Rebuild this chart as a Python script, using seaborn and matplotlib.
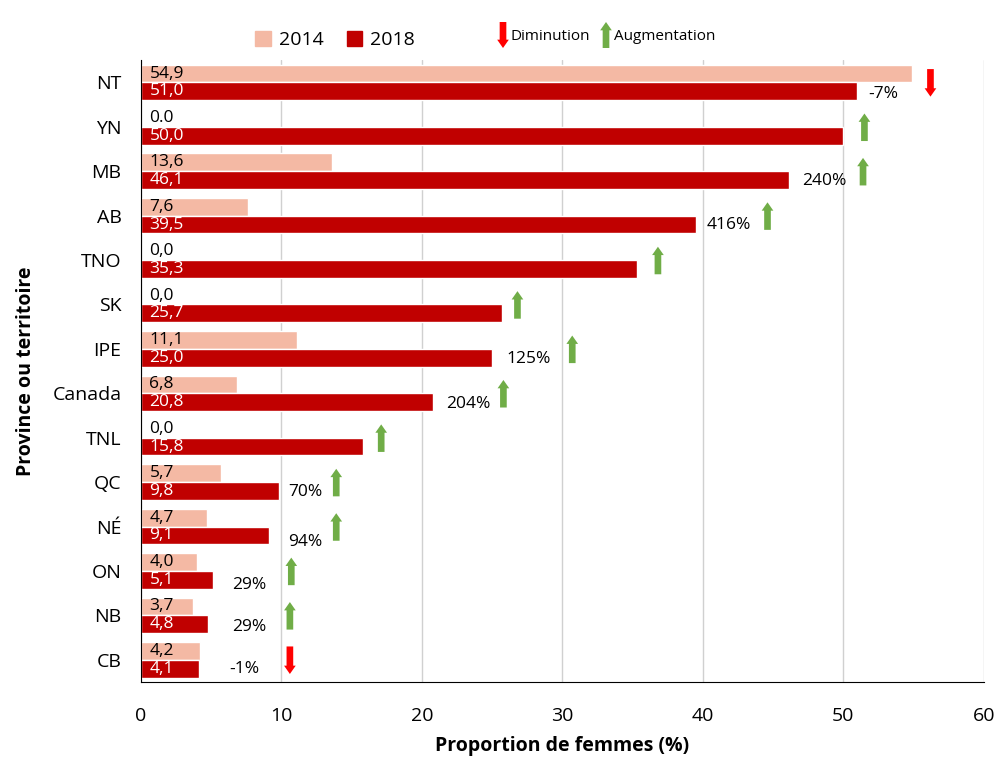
import matplotlib.pyplot as plt
import numpy as np
import pandas as pd
import seaborn as sns
from matplotlib.patches import Patch, FancyArrowPatch

# data
regions = ["NT", "YN", "MB", "AB", "TNO", "SK", "IPE", "Canada", "TNL", "QC", "NÉ", "ON", "NB", "CB"]
val_2014 = [54.9, 0.0, 13.6, 7.6, 0.0, 0.0, 11.1, 6.8, 0.0, 5.7, 4.7, 4.0, 3.7, 4.2]
val_2018 = [51.0, 50.0, 46.1, 39.5, 35.3, 25.7, 25.0, 20.8, 15.8, 9.8, 9.1, 5.1, 4.8, 4.1]
lab_2014 = ["54,9", "0.0", "13,6", "7,6", "0,0", "0,0", "11,1", "6,8", "0,0", "5,7", "4,7", "4,0", "3,7", "4,2"]
lab_2018 = ["51,0", "50,0", "46,1", "39,5", "35,3", "25,7", "25,0", "20,8", "15,8", "9,8", "9,1", "5,1", "4,8", "4,1"]
change = ["-7%", "", "240%", "416%", "", "", "125%", "204%", "", "70%", "94%", "29%", "29%", "-1%"]
trend = ["down", "up", "up", "up", "up", "up", "up", "up", "up", "up", "up", "up", "up", "down"]

# annotation layout (x in data units)
arrow_x = [56.2, 51.5, 51.4, 44.6, 36.8, 26.8, 30.7, 25.8, 17.1, 13.9, 13.9, 10.7, 10.6, 10.6]
change_x = [51.8, 0, 47.1, 40.3, 0, 0, 26.0, 21.7, 0, 10.5, 10.5, 6.5, 6.5, 6.3]
change_dy = [0.25, 0, 0.23, 0.22, 0, 0, 0.22, 0.25, 0, 0.22, 0.34, 0.32, 0.27, 0.2]

c14 = "#F4B9A4"
c18 = "#C00000"
c_up = "#70AD47"
c_down = "#FF0000"

df = pd.DataFrame({
    "region": regions * 2,
    "annee": ["2014"] * len(regions) + ["2018"] * len(regions),
    "valeur": val_2014 + val_2018,
})

sns.set_style("white")
plt.rcParams['font.family'] = ['Open Sans', 'DejaVu Sans']
plt.rcParams['text.color'] = 'black'
plt.rcParams['axes.labelcolor'] = 'black'
plt.rcParams['xtick.color'] = 'black'
plt.rcParams['ytick.color'] = 'black'

fig = plt.figure(figsize=(10.07, 7.62), dpi=100)
ax = fig.add_axes([0.140, 0.105, 0.837, 0.816])

sns.barplot(data=df, y="region", x="valeur", hue="annee", order=regions,
            hue_order=["2014", "2018"], palette=[c14, c18], width=0.8,
            orient="h", ax=ax, legend=False, saturation=1)

ax.set_xlim(0, 60)
ax.set_xticks(range(0, 61, 10))
ax.grid(axis="x", color="#D0D0D0", linewidth=1)
ax.set_axisbelow(True)
for s in ["top", "right"]:
    ax.spines[s].set_visible(False)
ax.spines["left"].set_color("black")
ax.spines["bottom"].set_color("black")
ax.tick_params(axis="both", labelsize=14, length=0)
ax.tick_params(axis="y", pad=14)
ax.tick_params(axis="x", pad=18)
ax.set_xlabel("Proportion de femmes (%)", fontsize=14, fontweight="bold", labelpad=8)
ax.set_ylabel("Province ou territoire", fontsize=14, fontweight="bold", labelpad=12)

# value labels inside the bars
for i in range(len(regions)):
    ax.text(0.6, i - 0.2, lab_2014[i], va="center", ha="left", fontsize=12.5, color="black")
    ax.text(0.6, i + 0.2, lab_2018[i], va="center", ha="left", fontsize=12.5, color="white")

# change labels and arrows
for i in range(len(regions)):
    if change[i]:
        ax.text(change_x[i], i + change_dy[i], change[i], va="center", ha="left",
                fontsize=12.5, color="black")
    if trend[i] == "up":
        start, end, col = (arrow_x[i], i + 0.32), (arrow_x[i], i - 0.3), c_up
    else:
        start, end, col = (arrow_x[i], i - 0.3), (arrow_x[i], i + 0.32), c_down
    arr = FancyArrowPatch(start, end, arrowstyle="simple,head_width=0.7,head_length=0.5,tail_width=0.4",
                          mutation_scale=12, color=col, lw=0, shrinkA=0, shrinkB=0)
    ax.add_patch(arr)

# top legend
handles = [Patch(color=c14, label="2014"), Patch(color=c18, label="2018")]
fig.legend(handles=handles, loc="center", bbox_to_anchor=(335 / 1007, 1 - 40 / 762), ncol=2,
           frameon=False, fontsize=14, handlelength=0.8, handleheight=0.8,
           handletextpad=0.4, columnspacing=1.2)

for xpix, col, txt, up in [(503, c_down, "Diminution", False), (606, c_up, "Augmentation", True)]:
    x = xpix / 1007
    ytop, ybot = 1 - 22 / 762, 1 - 48 / 762
    a, b = ((x, ybot), (x, ytop)) if up else ((x, ytop), (x, ybot))
    fig.add_artist(FancyArrowPatch(a, b, transform=fig.transFigure,
                                   arrowstyle="simple,head_width=0.7,head_length=0.5,tail_width=0.4",
                                   mutation_scale=12, color=col, lw=0, shrinkA=0, shrinkB=0))
    fig.text(x + 8 / 1007, 1 - 37 / 762, txt, fontsize=11, va="center", ha="left")

fig.savefig("out.png", dpi=100)
